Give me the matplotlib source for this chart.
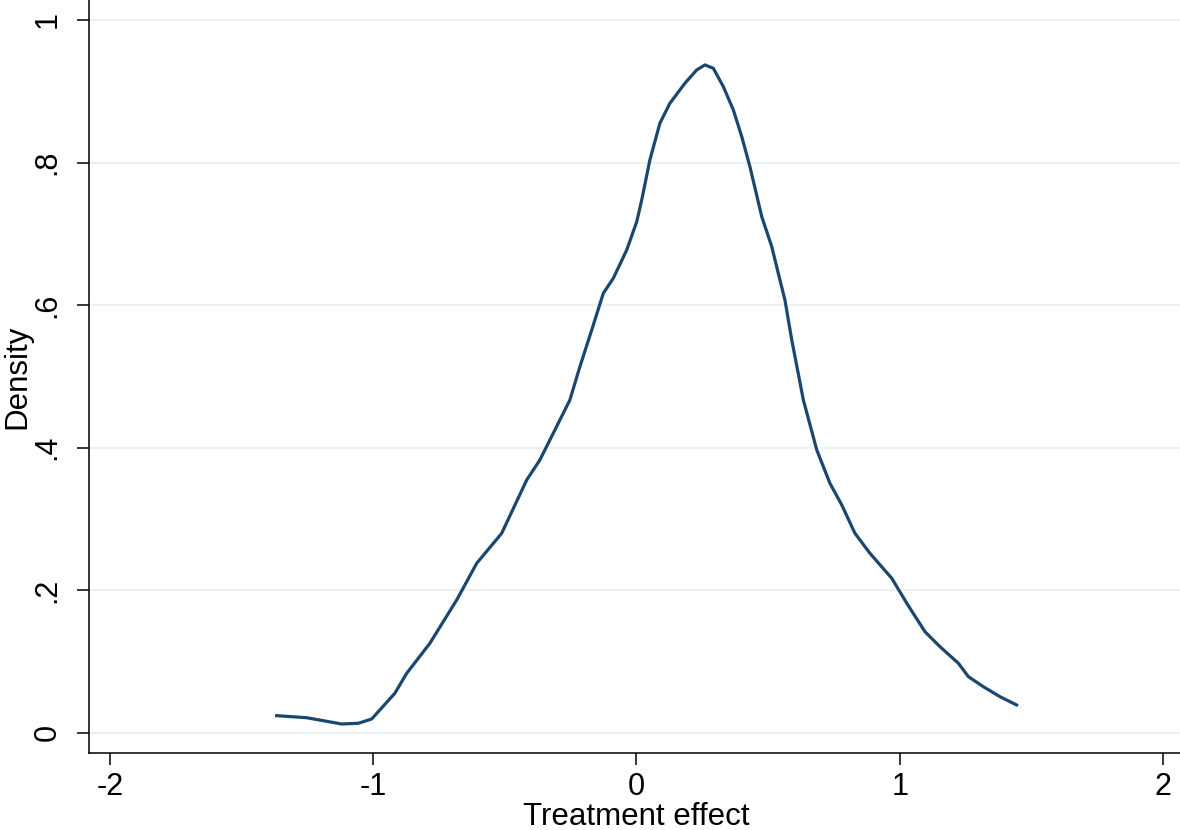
import matplotlib
matplotlib.use("Agg")
import matplotlib.pyplot as plt

plt.rcParams['font.family'] = ['Liberation Sans', 'DejaVu Sans']

# Kernel density estimate
effect_x = [-1.367, -1.253, -1.120, -1.057, -1.006, -0.918, -0.873, -0.785,
            -0.683, -0.607, -0.512, -0.417, -0.367, -0.253, -0.215, -0.170,
            -0.126, -0.088, -0.037, 0.001, 0.020, 0.051, 0.089, 0.127,
            0.184, 0.229, 0.260, 0.292, 0.330, 0.368, 0.400, 0.431,
            0.476, 0.514, 0.545, 0.564, 0.590, 0.634, 0.685, 0.735,
            0.780, 0.830, 0.887, 0.970, 1.027, 1.096, 1.153, 1.223,
            1.261, 1.318, 1.381, 1.444]
density_y = [0.0239, 0.0210, 0.0122, 0.0132, 0.0192, 0.0553, 0.0833, 0.1254,
             0.1862, 0.2377, 0.2798, 0.3546, 0.3826, 0.4668, 0.5135, 0.5650,
             0.6165, 0.6376, 0.6773, 0.7170, 0.7475, 0.8036, 0.8551, 0.8831,
             0.9112, 0.9299, 0.9369, 0.9322, 0.9064, 0.8737, 0.8363, 0.7942,
             0.7240, 0.6819, 0.6352, 0.6072, 0.5510, 0.4668, 0.3967, 0.3499,
             0.3195, 0.2798, 0.2517, 0.2166, 0.1816, 0.1417, 0.1207, 0.0974,
             0.0786, 0.0645, 0.0505, 0.0389]

x_ticks = [-2, -1, 0, 1, 2]
x_tick_labels = ["-2", "-1", "0", "1", "2"]
y_ticks = [0, 0.2, 0.4, 0.6, 0.8, 1.0]
y_tick_labels = ["0", ".2", ".4", ".6", ".8", "1"]

W, H = 1180, 830
fig = plt.figure(figsize=(W / 100, H / 100), dpi=100)
left_px, bottom_px = 89, 77
ax = fig.add_axes([left_px / W, bottom_px / H, 1 - left_px / W, 1 - bottom_px / H])

ax.plot(effect_x, density_y, color='#1A476F', lw=2.3, solid_joinstyle='round', zorder=3)

ax.set_xlim(-2.08, 2.065)
ax.set_ylim(-0.0285, 1.028)

ax.set_xticks(x_ticks)
ax.set_xticklabels(x_tick_labels)
ax.set_yticks(y_ticks)
ax.set_yticklabels(y_tick_labels, rotation=90, va='center')

ax.yaxis.grid(True, color='#EAF2F3', lw=1.5, zorder=0)
ax.set_axisbelow(True)

for s in ['top', 'right']:
    ax.spines[s].set_visible(False)
for s in ['left', 'bottom']:
    ax.spines[s].set_linewidth(1.1)
    ax.spines[s].set_color('black')

ax.tick_params(axis='x', length=8.6, width=1.1, pad=5, labelsize=22, colors='black')
ax.tick_params(axis='y', length=8.6, width=1.1, pad=10.5, labelsize=22, colors='black')

ax.set_xlabel("Treatment effect", fontsize=22.5)
ax.xaxis.label.set_va('baseline')
ax.xaxis.set_label_coords((636.5 - left_px) / (W - left_px), (753 - 825) / 753)

ax.set_ylabel("Density", fontsize=22.5)
ax.yaxis.label.set_va('center')
ax.yaxis.set_label_coords((17 - left_px) / (W - left_px), 0.5)

fig.savefig("out.png", dpi=100, facecolor='white')
